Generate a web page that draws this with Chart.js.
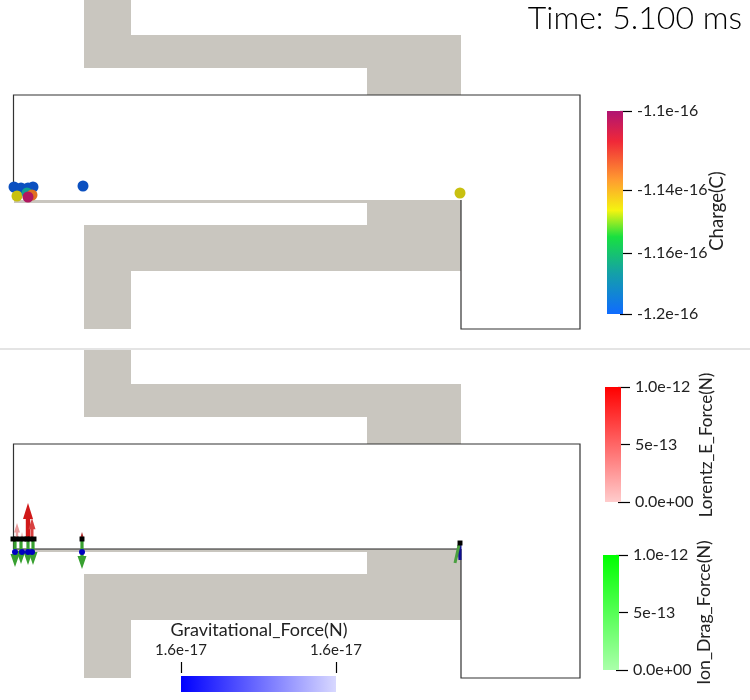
<!DOCTYPE html>
<html>
<head>
<meta charset="utf-8">
<title>Time: 5.100 ms</title>
<script src="https://cdn.jsdelivr.net/npm/chart.js@4"></script>
<style>
	body { margin: 0; background: #fff; width: 750px; height: 700px; position: relative; overflow: hidden; }
	canvas { position: absolute; }
	#sep { position: absolute; left: 0; top: 348px; width: 750px; height: 2px; background: #e4e4e4; }
	#time { position: absolute; right: 8px; top: -3px; font: 300 32px Lato, sans-serif; color: #000; white-space: nowrap; }
</style>
</head>
<body>
<canvas id="panelTop" style="left:0;top:0"></canvas>
<canvas id="panelBottom" style="left:0;top:349px"></canvas>
<canvas id="barCharge" style="left:590px;top:91px"></canvas>
<canvas id="barLorentz" style="left:588px;top:367px"></canvas>
<canvas id="barDrag" style="left:586px;top:535px"></canvas>
<canvas id="barGravity" style="left:130px;top:615px"></canvas>
<div id="sep"></div>
<div id="time">Time: 5.100 ms</div>
<script>
// geometry, same for both panels
const upperX = [84, 131, 131, 461, 461, 367, 367, 84, 84];
const upperY = [0, 0, 35, 35, 95, 95, 68, 68, 0];
const lowerX = [14, 461, 461, 131, 131, 84, 84, 367, 367, 14, 14];
const lowerY = [200, 200, 271, 271, 329, 329, 225, 225, 203, 203, 200];
const wallX = [13.5, 13.5, 580, 580, 461, 461];
const wallY = [200, 95, 95, 329, 329, 200];

// particles top panel
const chargeX = [460, 14, 21, 33, 28, 83, 17, 27, 32, 28];
const chargeY = [193, 187, 188, 187, 188, 186, 196, 193, 195, 197];
const chargeColors = ['#c8c010', '#0b50c0', '#0b50c0', '#0b50c0', '#0b50c0', '#0b50c0', '#c8c010', '#10a090', '#e07020', '#b01860'];

// force arrows bottom panel
const lorentzX = [17, 22, 32, 28, 82];
const lorentzTip = [174, 183, 169, 154, 183];
const lorentzHead = [6, 5, 7, 10, 4];
const lorentzShaft = [1.2, 1.2, 1.5, 2.2, 1];
const lorentzColors = ['#e89a9a', '#f0c0c0', '#d84040', '#d01818', '#b03030'];
const dragX = [15, 21, 28, 33, 82];
const dragTip = [218, 215, 216, 216, 220];
const blackX = [13, 16, 20, 24, 27, 30, 34, 82, 460];
const blackY = [190, 190, 190, 190, 190, 190, 190, 190, 194];
const gravityX = [15, 22, 28, 32, 82];
const gravityY = [203, 203, 203, 203, 203];

// colorbars
const chargeTicks = [-1.1, -1.139, -1.17, -1.2];
const chargeLabels = ['-1.1e-16', '-1.14e-16', '-1.16e-16', '-1.2e-16'];
const chargeStops = [[0, '#0f6bff'], [0.2, '#14a0a8'], [0.38, '#18e040'], [0.51, '#f4f410'], [0.66, '#ff9c30'], [0.85, '#f02838'], [1, '#b01472']];
const forceTicks = [0, 5e-13, 1e-12];
const forceLabels = ['0.0e+00', '5e-13', '1.0e-12'];
const lorentzStops = [[0, '#ffcccc'], [1, '#ff0000']];
const dragStops = [[0, '#aaffaa'], [1, '#00ff00']];
const gravityTicks = [1.57e-17, 1.63e-17];
const gravityLabels = ['1.6e-17', '1.6e-17'];
const gravityStops = [[0, '#0000ff'], [1, '#d8d8ff']];

const FONT = 'Lato, sans-serif';
const GREY = '#c9c6bf';
const INK = '#222';

function pts(xs, ys) {
	return xs.map((x, i) => ({ x: x, y: ys[i] }));
}

function shape(xs, ys, color) {
	return { data: pts(xs, ys), showLine: true, fill: 'shape', backgroundColor: color, borderColor: color, borderWidth: 0, pointRadius: 0 };
}

function path(xs, ys, color, w) {
	return { data: pts(xs, ys), showLine: true, fill: false, borderColor: color, borderWidth: w, pointRadius: 0 };
}

// vertical arrow as closed outline
function arrow(x, base, tip, head, len, sw, color) {
	const d = tip > base ? -len : len;
	const xs = [x - sw, x - sw, x - head / 2, x, x + head / 2, x + sw, x + sw, x - sw];
	const ys = [base, tip + d, tip + d, tip, tip + d, tip + d, base, base];
	return shape(xs, ys, color);
}

function panel(id, h, datasets) {
	const cv = document.getElementById(id);
	cv.width = 750;
	cv.height = h;
	new Chart(cv, {
		type: 'scatter',
		data: { datasets: datasets },
		options: {
			responsive: false,
			animation: false,
			devicePixelRatio: 1,
			layout: { autoPadding: false },
			plugins: { legend: { display: false }, tooltip: { enabled: false } },
			scales: {
				x: { type: 'linear', min: 0, max: 750, display: false },
				y: { type: 'linear', min: 0, max: h, reverse: true, display: false }
			}
		}
	});
}

const base = [
	path(wallX, wallY, '#333', 1.2),
	shape(upperX, upperY, GREY),
	shape(lowerX, lowerY, GREY)
];

// first dataset is on top
const sphereSet = [{
	data: pts(chargeX, chargeY),
	pointRadius: 5.5,
	pointBackgroundColor: chargeColors,
	pointBorderWidth: 0
}];
panel('panelTop', 348, sphereSet.concat(base));

const arrows = [];
dragX.forEach((x, i) => arrows.push(arrow(x, 188, dragTip[i], 9, 13, 1.6, '#38a030')));
arrows.push(path([459, 455], [196, 214], '#4aa040', 3));
arrows.push(path([459, 460], [196, 211], '#101090', 3));
const marks = [
	{ data: pts(blackX, blackY), pointStyle: 'rect', pointRadius: 3.5, pointBackgroundColor: '#000', pointBorderWidth: 0 },
	{ data: pts(gravityX, gravityY), pointRadius: 3, pointBackgroundColor: '#0000c0', pointBorderWidth: 0 }
];
const reds = lorentzX.map((x, i) => arrow(x, 188, lorentzTip[i], lorentzHead[i], lorentzHead[i] * 1.6, lorentzShaft[i], lorentzColors[i]));
const floorLine = [path([14, 461], [200, 200], '#222', 1.2)];
panel('panelBottom', 351, marks.concat(arrows, reds, floorLine, base));

// own title: right axis title turns the wrong way, top axis title gets squeezed to the bar width
const barTitle = {
	id: 'barTitle',
	afterDraw(chart, args, opts) {
		const c = chart.ctx;
		c.save();
		c.translate(opts.x, opts.y);
		c.rotate(opts.flat ? 0 : -Math.PI / 2);
		c.font = opts.size + 'px ' + FONT;
		c.fillStyle = INK;
		c.textAlign = 'center';
		c.textBaseline = 'middle';
		c.fillText(opts.text, 0, 0);
		c.restore();
	}
};

function gradient(chart, stops, horizontal) {
	const a = chart.chartArea;
	if (!a) return stops[0][1];
	const g = horizontal ? chart.ctx.createLinearGradient(a.left, 0, a.right, 0) : chart.ctx.createLinearGradient(0, a.bottom, 0, a.top);
	stops.forEach(s => g.addColorStop(s[0], s[1]));
	return g;
}

function vBar(id, w, h, pad, ticks, labels, stops, title, tx, ty, tsize) {
	const cv = document.getElementById(id);
	cv.width = w;
	cv.height = h;
	const lo = Math.min.apply(null, ticks), hi = Math.max.apply(null, ticks);
	new Chart(cv, {
		type: 'scatter',
		data: { datasets: [{
			data: [{ x: 25, y: lo }, { x: 25, y: hi }],
			showLine: true,
			clip: false,
			borderWidth: 16,
			pointRadius: 0,
			borderColor: c => gradient(c.chart, stops, false)
		}] },
		options: {
			responsive: false,
			animation: false,
			devicePixelRatio: 1,
			layout: { autoPadding: false, padding: { top: pad[0], bottom: pad[1] } },
			plugins: { legend: { display: false }, tooltip: { enabled: false }, barTitle: { text: title, x: tx, y: ty, size: tsize } },
			scales: {
				x: { type: 'linear', min: 0, max: 30, display: false },
				y: {
					type: 'linear',
					position: 'right',
					min: lo,
					max: hi,
					afterBuildTicks: s => { s.ticks = ticks.map(v => ({ value: v })); },
					afterFit: s => { s.paddingTop = 0; s.paddingBottom = 0; s.width = w - 30; },
					border: { display: false },
					grid: { drawOnChartArea: false, tickLength: 12, tickColor: '#000', tickWidth: 1.2 },
					ticks: { padding: 5, color: INK, font: { size: 16, family: FONT }, callback: (v, i) => labels[i] }
				}
			}
		},
		plugins: [barTitle]
	});
}

vBar('barCharge', 150, 240, [20, 17], chargeTicks, chargeLabels, chargeStops, 'Charge(C)', 127, 120, 18.5);
vBar('barLorentz', 135, 155, [20, 20], forceTicks, forceLabels, lorentzStops, 'Lorentz_E_Force(N)', 119, 78, 17);
vBar('barDrag', 135, 155, [20, 20], forceTicks, forceLabels, dragStops, 'Ion_Drag_Force(N)', 118, 77.5, 17.7);

// horizontal one
(function () {
	const cv = document.getElementById('barGravity');
	cv.width = 260;
	cv.height = 80;
	const lo = gravityTicks[0], hi = gravityTicks[1];
	new Chart(cv, {
		type: 'scatter',
		data: { datasets: [{
			data: [{ x: lo, y: 0.5 }, { x: hi, y: 0.5 }],
			showLine: true,
			clip: false,
			borderWidth: 16,
			pointRadius: 0,
			borderColor: c => gradient(c.chart, gravityStops, true)
		}] },
		options: {
			responsive: false,
			animation: false,
			devicePixelRatio: 1,
			layout: { autoPadding: false, padding: { left: 51, right: 54 } },
			plugins: { legend: { display: false }, tooltip: { enabled: false }, barTitle: { text: 'Gravitational_Force(N)', x: 129, y: 15, size: 18, flat: true } },
			scales: {
				y: { type: 'linear', min: 0, max: 1, display: false },
				x: {
					type: 'linear',
					position: 'top',
					min: lo,
					max: hi,
					afterBuildTicks: s => { s.ticks = gravityTicks.map(v => ({ value: v })); },
					afterFit: s => { s.paddingLeft = 0; s.paddingRight = 0; s.height = 58; },
					border: { display: false },
					grid: { drawOnChartArea: false, tickLength: 11, tickColor: '#000', tickWidth: 1.2 },
					ticks: { padding: 3, maxRotation: 0, autoSkip: false, color: INK, font: { size: 15, family: FONT }, callback: (v, i) => gravityLabels[i] }
				}
			}
		},
		plugins: [barTitle]
	});
})();
</script>
</body>
</html>
